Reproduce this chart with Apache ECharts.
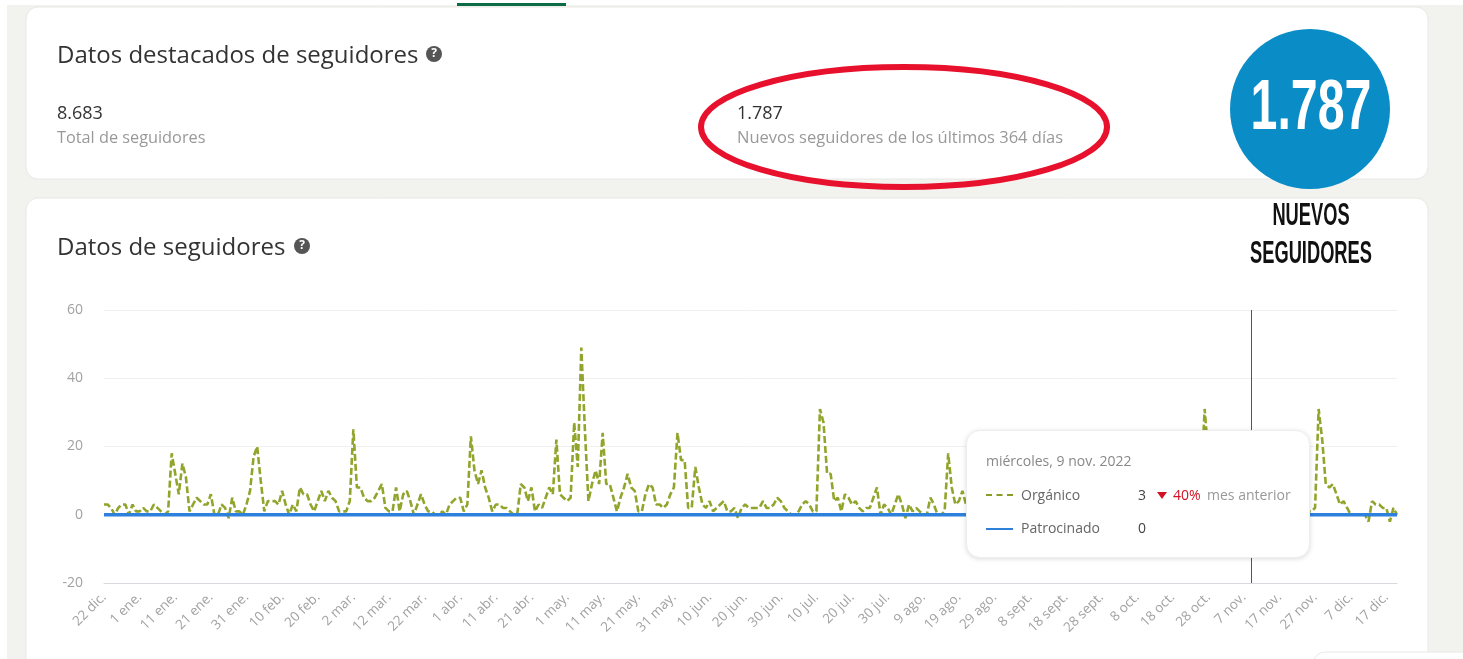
<!DOCTYPE html>
<html lang="es">
<head>
<meta charset="utf-8">
<title>Datos de seguidores</title>
<style>
html,body{margin:0;padding:0;background:#fff;overflow:hidden}
#chart{width:1463px;height:659px}
.tt{position:relative;width:344px;height:128px;font-family:'Open Sans',sans-serif;font-size:14px;color:#666;line-height:18px}
.tt span,.tt i{position:absolute;white-space:nowrap;font-style:normal}
</style>
<script src="https://cdn.jsdelivr.net/npm/echarts@6/dist/echarts.min.js"></script>
</head>
<body>
<div id="chart"></div>
<script>
const monthNames = ['ene.','feb.','mar.','abr.','may.','jun.','jul.','ago.','sept.','oct.','nov.','dic.'];
const firstDay = [2021, 11, 22];
const dayCount = 364;
const activeDay = 322;

const organico = [
  3,3,2,0,2,3,3,0,3,1,
  1,2,1,1,3,2,1,0,1,18,
  12,6,15,11,1,3,5,4,3,3,
  6,0,0,3,2,-1,5,1,1,0,
  3,7,17,20,10,1,4,4,4,3,
  7,3,0,3,1,8,6,6,3,1,
  4,7,4,7,5,4,1,1,1,4,
  25,8,8,5,4,4,5,7,9,2,
  1,1,8,1,6,7,4,0,3,6,
  3,1,1,0,0,1,0,3,4,5,
  5,1,3,23,13,9,13,8,5,1,
  3,3,2,2,1,0,0,9,8,4,
  8,1,3,2,5,8,6,22,6,5,
  4,5,27,14,49,25,4,9,13,9,
  24,9,9,5,1,5,8,12,8,7,
  1,1,6,9,8,3,3,2,3,6,
  8,24,16,16,2,2,14,8,3,2,
  4,1,2,3,4,1,1,2,-1,2,
  3,2,2,2,2,4,2,2,3,5,
  4,2,1,0,0,1,3,4,3,1,
  1,31,27,12,12,4,5,1,6,5,
  3,4,2,1,2,2,5,8,0,3,
  2,0,3,6,3,-1,3,1,2,1,
  0,0,5,3,0,0,1,18,8,3,
  4,7,3,5,2,1,4,3,0,2,
  3,1,2,5,1,0,3,2,4,1,
  2,6,3,1,0,2,4,2,1,3,
  5,2,0,1,3,4,2,1,6,3,
  1,2,4,0,2,3,1,5,2,1,
  3,7,2,0,1,4,2,3,1,5,
  2,1,3,6,2,4,1,3,9,31,
  18,6,3,4,2,5,3,1,4,6,
  2,5,3,2,1,4,3,0,2,5,
  3,1,2,4,1,3,0,2,1,1,
  2,31,22,9,8,9,6,3,4,2,
  0,0,0,0,0,-2,4,3,3,2,
  2,-2,2,0
];
const patrocinado = [
  0,0,0,0,0,0,0,0,0,0,0,0,0,0,0,0,0,0,0,0,0,0,0,0,0,0,0,0,
  0,0,0,0,0,0,0,0,0,0,0,0,0,0,0,0,0,0,0,0,0,0,0,0,0,0,0,0,
  0,0,0,0,0,0,0,0,0,0,0,0,0,0,0,0,0,0,0,0,0,0,0,0,0,0,0,0,
  0,0,0,0,0,0,0,0,0,0,0,0,0,0,0,0,0,0,0,0,0,0,0,0,0,0,0,0,
  0,0,0,0,0,0,0,0,0,0,0,0,0,0,0,0,0,0,0,0,0,0,0,0,0,0,0,0,
  0,0,0,0,0,0,0,0,0,0,0,0,0,0,0,0,0,0,0,0,0,0,0,0,0,0,0,0,
  0,0,0,0,0,0,0,0,0,0,0,0,0,0,0,0,0,0,0,0,0,0,0,0,0,0,0,0,
  0,0,0,0,0,0,0,0,0,0,0,0,0,0,0,0,0,0,0,0,0,0,0,0,0,0,0,0,
  0,0,0,0,0,0,0,0,0,0,0,0,0,0,0,0,0,0,0,0,0,0,0,0,0,0,0,0,
  0,0,0,0,0,0,0,0,0,0,0,0,0,0,0,0,0,0,0,0,0,0,0,0,0,0,0,0,
  0,0,0,0,0,0,0,0,0,0,0,0,0,0,0,0,0,0,0,0,0,0,0,0,0,0,0,0,
  0,0,0,0,0,0,0,0,0,0,0,0,0,0,0,0,0,0,0,0,0,0,0,0,0,0,0,0,
  0,0,0,0,0,0,0,0,0,0,0,0,0,0,0,0,0,0,0,0,0,0,0,0,0,0,0,0
];
const days = [];
for (let i = 0; i < dayCount; i++) {
  const d = new Date(Date.UTC(firstDay[0], firstDay[1], firstDay[2] + i));
  days.push(d.getUTCDate() + ' ' + monthNames[d.getUTCMonth()]);
}

const UI = "'Open Sans', sans-serif";
const card = (x, y, w, h) => ({
  type: 'rect', z: -10, shape: {x, y, width: w, height: h, r: 12},
  style: {fill: '#fff', stroke: '#e8e8e4', lineWidth: 1}
});
const txt = (x, y, text, size, fill, extra) => ({
  type: 'text', z: 5, x, y,
  style: Object.assign({text, font: size + 'px ' + UI, fill, textVerticalAlign: 'middle'}, extra || {})
});
const help = (cx, cy) => [
  {type: 'circle', z: 5, shape: {cx, cy, r: 8}, style: {fill: '#555'}},
  {type: 'text', z: 6, x: cx, y: cy, style: {text: '?', font: 'bold 12px ' + UI, fill: '#fff', align: 'center', verticalAlign: 'middle'}}
];
const condensed = (y, text, size, fill, sx) => ({
  type: 'text', z: 7, x: 1311, y, scaleX: sx,
  style: {text, font: 'bold ' + size + 'px "Liberation Sans",sans-serif', fill, align: 'center', verticalAlign: 'middle'}
});

const graphics = [
  {type: 'rect', z: -20, shape: {x: 0, y: 0, width: 1463, height: 659}, style: {fill: '#f2f2ee'}},
  {type: 'rect', z: -19, shape: {x: 0, y: 0, width: 7, height: 659}, style: {fill: '#fff'}},
  {type: 'rect', z: -19, shape: {x: 0, y: 0, width: 1463, height: 5}, style: {fill: '#fff'}},
  {type: 'rect', z: -9, shape: {x: 457, y: 3, width: 109, height: 3}, style: {fill: '#0a6b45'}},
  card(26, 7, 1402, 172),
  card(26, 198, 1402, 480),
  card(1313, 652, 200, 40),
  txt(57, 56, 'Datos destacados de seguidores', 24, '#333'),
  ...help(434, 54),
  txt(57, 114, '8.683', 18, '#333'),
  txt(57, 138, 'Total de seguidores', 16.3, '#999'),
  txt(737, 114, '1.787', 18, '#333'),
  txt(737, 138, 'Nuevos seguidores de los últimos 364 días', 16.5, '#999'),
  txt(57, 248, 'Datos de seguidores', 24, '#333'),
  ...help(302, 246),
  {type: 'ellipse', z: 6, shape: {cx: 904, cy: 127, rx: 203, ry: 60}, style: {fill: 'none', stroke: '#e8112d', lineWidth: 6}},
  {type: 'circle', z: 6, shape: {cx: 1310, cy: 109, r: 80}, style: {fill: '#0a8cc7'}},
  condensed(110, '1.787', 70, '#fff', 0.69),
  condensed(216, 'NUEVOS', 31, '#111', 0.59),
  condensed(254, 'SEGUIDORES', 31, '#111', 0.59)
];

const tipHtml = `<div class="tt">
<span style="left:19px;top:21px;color:#888">miércoles, 9 nov. 2022</span>
<i style="left:19px;top:63px;width:27px;border-top:2px dashed #8a9c22"></i>
<span style="left:54px;top:55px">Orgánico</span>
<span style="left:171px;top:55px;color:#444">3</span>
<i style="left:190px;top:61px;width:0;height:0;border-left:5px solid transparent;border-right:5px solid transparent;border-top:7px solid #d11124"></i>
<span style="left:206px;top:55px;color:#d11124">40%</span>
<span style="left:240px;top:55px;color:#999">mes anterior</span>
<i style="left:19px;top:97px;width:27px;border-top:2px solid #2f80d8"></i>
<span style="left:54px;top:88px">Patrocinado</span>
<span style="left:171px;top:88px;color:#444">0</span>
</div>`;

const chart = echarts.init(document.getElementById('chart'), null, {width: 1463, height: 659});
chart.setOption({
  animation: false,
  backgroundColor: 'transparent',
  graphic: {elements: graphics},
  grid: {left: 104, top: 310, width: 1293, height: 273, containLabel: false},
  tooltip: {
    trigger: 'axis',
    triggerOn: 'none',
    alwaysShowContent: true,
    transitionDuration: 0,
    position: [966, 430],
    padding: 0,
    borderWidth: 0,
    borderColor: 'transparent',
    backgroundColor: '#fff',
    extraCssText: 'width:344px;height:128px;border-radius:14px;border:1px solid #eee;box-shadow:0 1px 5px rgba(0,0,0,.14);box-sizing:border-box;',
    axisPointer: {type: 'line', snap: true, label: {show: false}, lineStyle: {color: '#555', width: 1, type: 'solid'}},
    formatter: () => tipHtml
  },
  xAxis: {
    type: 'category',
    boundaryGap: false,
    data: days,
    axisLine: {onZero: false, lineStyle: {color: '#d8d8de', width: 1}},
    axisTick: {show: false},
    splitLine: {show: false},
    axisLabel: {interval: 9, rotate: 45, margin: 12, color: '#a2a2a2', fontSize: 13.5, fontFamily: UI}
  },
  yAxis: {
    type: 'value',
    min: -20, max: 60, interval: 20,
    axisLine: {show: false},
    axisTick: {show: false},
    splitLine: {lineStyle: {color: '#f0f0f0', width: 1}},
    axisLabel: {margin: 21, color: '#a2a2a2', fontSize: 14, fontFamily: UI}
  },
  series: [
    {name: 'Orgánico', type: 'line', data: organico, showSymbol: false, symbol: 'none', z: 3,
     lineStyle: {color: '#849628', width: 2.6, type: [7, 3]}},
    {name: 'Patrocinado', type: 'line', data: patrocinado, showSymbol: false, symbol: 'none', z: 4,
     lineStyle: {color: '#2b74c8', width: 3.6}}
  ]
});
chart.dispatchAction({type: 'showTip', seriesIndex: 0, dataIndex: activeDay});
</script>
</body>
</html>
